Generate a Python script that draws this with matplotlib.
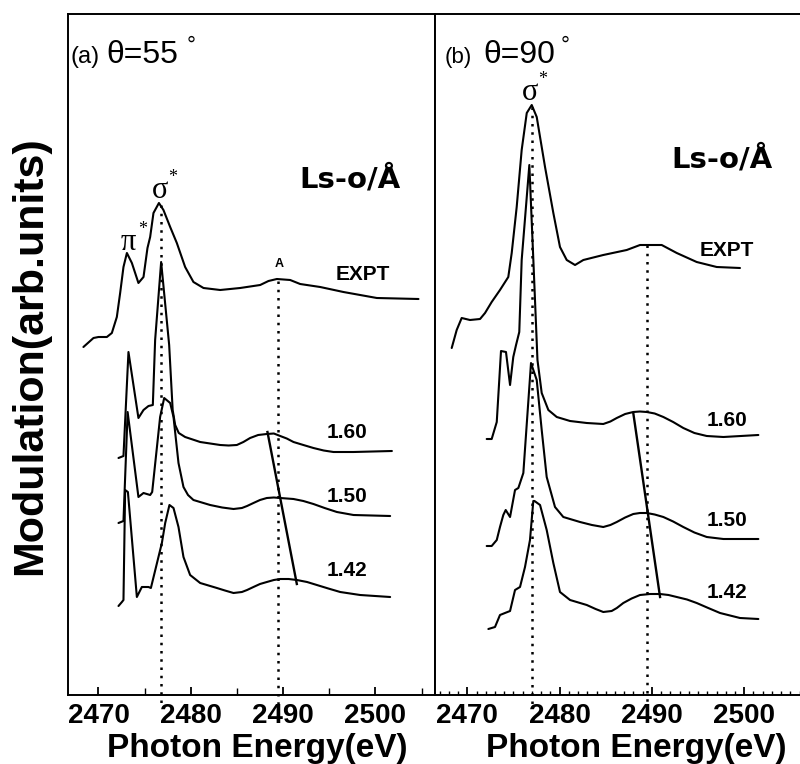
import matplotlib
matplotlib.use("Agg")
import matplotlib.pyplot as plt
from matplotlib.ticker import MultipleLocator

plt.rcParams['font.family'] = ['Liberation Sans', 'DejaVu Sans']

# ---------------- data: panel (a) theta = 55 deg ----------------
a_expt_E = [2468.37, 2469.46, 2470.0, 2470.91, 2471.45, 2471.99, 2472.35, 2472.71, 2473.08,
            2473.62, 2474.33, 2474.88, 2475.31, 2475.60, 2475.96, 2476.55, 2477.04, 2477.77,
            2478.49, 2479.39, 2480.29, 2481.38, 2483.19, 2485.35, 2487.52, 2488.42, 2489.33,
            2490.77, 2491.85, 2494.02, 2496.54, 2500.16, 2504.67]
a_expt_I = [3.48, 3.57, 3.58, 3.58, 3.62, 3.78, 4.02, 4.28, 4.42,
            4.32, 4.12, 4.18, 4.47, 4.58, 4.82, 4.92, 4.85, 4.68,
            4.52, 4.28, 4.13, 4.07, 4.05, 4.07, 4.10, 4.14, 4.16,
            4.15, 4.11, 4.08, 4.03, 3.97, 3.96]

a_160_E = [2472.17, 2472.71, 2473.25, 2474.33, 2474.88, 2475.42, 2475.89, 2476.14, 2476.79,
           2477.66, 2478.04, 2478.31, 2478.70, 2479.39, 2481.02, 2482.10, 2483.19, 2484.10,
           2484.99, 2485.70, 2486.43, 2487.30, 2488.24, 2489.00, 2489.69, 2490.40, 2491.13,
           2492.20, 2493.29, 2494.40, 2495.46, 2497.63, 2501.79]
a_160_I = [2.37, 2.39, 3.43, 2.77, 2.85, 2.89, 2.90, 3.55, 4.33,
           3.50, 2.85, 2.70, 2.62, 2.58, 2.53, 2.515, 2.50, 2.495,
           2.50, 2.53, 2.57, 2.60, 2.61, 2.615, 2.59, 2.565, 2.53,
           2.50, 2.47, 2.445, 2.43, 2.43, 2.44]

a_150_E = [2472.17, 2472.71, 2473.16, 2474.33, 2474.88, 2475.60, 2475.82, 2476.68, 2477.12,
           2477.77, 2478.13, 2478.67, 2479.21, 2479.70, 2480.29, 2482.10, 2483.40, 2484.63,
           2485.54, 2486.10, 2486.79, 2487.50, 2488.24, 2489.00, 2489.69, 2491.13, 2492.20,
           2493.29, 2494.50, 2495.83, 2497.63, 2501.60]
a_150_I = [1.72, 1.74, 2.83, 1.98, 2.02, 2.00, 2.03, 2.78, 2.97,
           2.92, 2.78, 2.32, 2.08, 2.00, 1.95, 1.90, 1.875, 1.86,
           1.87, 1.89, 1.92, 1.95, 1.97, 1.975, 1.97, 1.96, 1.94,
           1.91, 1.87, 1.83, 1.80, 1.79]

a_142_E = [2472.17, 2472.54, 2472.71, 2472.89, 2473.19, 2474.16, 2474.70, 2475.42, 2475.68,
           2476.50, 2476.87, 2477.23, 2477.69, 2478.13, 2478.67, 2479.21, 2479.93, 2481.02,
           2482.83, 2483.70, 2484.63, 2485.54, 2486.10, 2486.79, 2487.50, 2488.24, 2489.00,
           2489.69, 2490.60, 2491.49, 2492.60, 2493.66, 2494.90, 2496.19, 2498.35, 2501.60]
a_142_I = [0.89, 0.93, 0.95, 2.05, 2.03, 0.98, 1.08, 1.08, 1.07,
           1.38, 1.52, 1.72, 1.90, 1.87, 1.68, 1.38, 1.20, 1.12,
           1.07, 1.045, 1.02, 1.03, 1.05, 1.08, 1.11, 1.13, 1.15,
           1.16, 1.16, 1.15, 1.13, 1.10, 1.065, 1.03, 1.00, 0.98]

a_shift_E = [2488.31, 2491.49]
a_shift_I = [2.63, 1.11]
a_sigma_E, a_sigma_top = 2476.8, 4.90
a_A_E, a_A_top = 2489.5, 4.14

# ---------------- data: panel (b) theta = 90 deg ----------------
b_expt_E = [2468.31, 2468.85, 2469.39, 2470.29, 2471.38, 2471.92, 2472.64, 2473.54, 2474.44,
            2474.81, 2475.35, 2475.89, 2476.44, 2476.98, 2477.52, 2478.42, 2479.32, 2480.04,
            2480.77, 2481.67, 2482.57, 2484.73, 2487.27, 2488.71, 2491.06, 2492.69, 2494.85,
            2497.02, 2499.54]
b_expt_I = [3.47, 3.65, 3.77, 3.75, 3.76, 3.82, 3.93, 4.05, 4.18,
            4.42, 4.88, 5.45, 5.82, 5.90, 5.78, 5.28, 4.82, 4.48,
            4.35, 4.30, 4.35, 4.40, 4.45, 4.50, 4.50, 4.42, 4.33,
            4.28, 4.27]

b_160_E = [2472.10, 2472.64, 2473.19, 2473.65, 2474.19, 2474.63, 2474.98, 2475.28, 2475.63,
           2475.89, 2476.72, 2477.20, 2477.60, 2478.06, 2478.78, 2479.69, 2481.13, 2482.94,
           2484.73, 2485.50, 2486.19, 2487.10, 2487.98, 2488.70, 2489.44, 2490.30, 2491.24,
           2492.30, 2493.40, 2494.60, 2495.94, 2497.74, 2501.53]
b_160_I = [2.56, 2.56, 2.73, 3.44, 3.43, 3.10, 3.38, 3.50, 3.63,
           4.35, 5.30, 4.25, 3.35, 3.02, 2.85, 2.78, 2.74, 2.72,
           2.71, 2.735, 2.77, 2.81, 2.83, 2.835, 2.83, 2.815, 2.78,
           2.73, 2.67, 2.62, 2.59, 2.58, 2.60]

b_150_E = [2472.10, 2472.64, 2473.19, 2473.54, 2473.90, 2474.16, 2474.63, 2475.17, 2475.53,
           2476.07, 2476.90, 2477.52, 2478.06, 2478.60, 2479.50, 2480.40, 2482.21, 2483.50,
           2484.73, 2485.50, 2486.19, 2487.10, 2487.98, 2488.70, 2489.44, 2490.30, 2491.24,
           2492.30, 2493.40, 2494.60, 2495.94, 2497.74, 2501.53]
b_150_I = [1.49, 1.49, 1.55, 1.68, 1.80, 1.85, 1.78, 2.05, 2.07,
           2.22, 3.32, 3.15, 2.65, 2.18, 1.88, 1.78, 1.73, 1.70,
           1.68, 1.70, 1.73, 1.775, 1.81, 1.82, 1.82, 1.805, 1.78,
           1.735, 1.68, 1.625, 1.58, 1.56, 1.56]

b_142_E = [2472.28, 2473.00, 2473.54, 2474.08, 2474.63, 2475.17, 2475.71, 2476.25, 2476.79,
           2477.15, 2477.28, 2477.88, 2478.60, 2479.32, 2480.04, 2481.13, 2482.94, 2483.90,
           2484.73, 2485.64, 2486.20, 2486.90, 2487.80, 2488.71, 2489.80, 2490.88, 2491.80,
           2492.69, 2493.80, 2494.85, 2496.10, 2497.38, 2499.54, 2501.53]
b_142_I = [0.66, 0.68, 0.80, 0.82, 0.84, 1.05, 1.08, 1.28, 1.55,
           1.94, 1.94, 1.90, 1.65, 1.32, 1.03, 0.95, 0.90, 0.86,
           0.83, 0.84, 0.87, 0.92, 0.965, 1.00, 1.01, 1.01, 1.00,
           0.98, 0.955, 0.92, 0.87, 0.82, 0.77, 0.76]

b_shift_E = [2487.98, 2490.88]
b_shift_I = [2.82, 0.98]
b_sigma_E, b_sigma_top = 2477.0, 5.88
b_A_E, b_A_top = 2489.5, 4.50

xticks = [2470, 2480, 2490, 2500]
sim_labels = ['1.60', '1.50', '1.42']

# ---------------- figure ----------------
W, H = 800, 764
fig = plt.figure(figsize=(8, 7.64), dpi=100)
axa = fig.add_axes([68 / W, 69 / H, 367 / W, 681 / H])
axb = fig.add_axes([435 / W, 69 / H, 366 / W, 681 / H])

lw = 1.5
dots = (0, (1, 2.3))
serif = ['Liberation Serif', 'DejaVu Serif']
line_kw = dict(color='black', lw=lw, solid_joinstyle='round', solid_capstyle='round')

def style(ax, xlim, fine):
    ax.set_xlim(*xlim)
    ax.set_ylim(0, 6.81)
    ax.set_yticks([])
    ax.set_xticks(xticks)
    ax.set_xticklabels([str(t) for t in xticks], fontsize=20, fontweight='bold')
    ax.xaxis.set_minor_locator(MultipleLocator(1 if fine else 5))
    ax.tick_params(axis='x', which='major', direction='in', length=6, width=1.3, pad=6)
    ax.tick_params(axis='x', which='minor', direction='in', length=3 if fine else 5, width=1.0)
    for s in ax.spines.values():
        s.set_linewidth(1.4)

style(axa, (2466.7, 2506.46), False)
style(axb, (2466.5, 2506.15), True)
axb.spines['right'].set_visible(False)

# panel a
axa.plot(a_expt_E, a_expt_I, **line_kw)
for E, I in [(a_160_E, a_160_I), (a_150_E, a_150_I), (a_142_E, a_142_I)]:
    axa.plot(E, I, **line_kw)
axa.plot(a_shift_E, a_shift_I, color='black', lw=1.7)
axa.plot([a_sigma_E, a_sigma_E], [a_sigma_top, -0.1], color='black', lw=1.8, ls=dots, clip_on=False)
axa.plot([a_A_E, a_A_E], [a_A_top, -0.1], color='black', lw=1.8, ls=dots, clip_on=False)

# panel b
axb.plot(b_expt_E, b_expt_I, **line_kw)
for E, I in [(b_160_E, b_160_I), (b_150_E, b_150_I), (b_142_E, b_142_I)]:
    axb.plot(E, I, **line_kw)
axb.plot(b_shift_E, b_shift_I, color='black', lw=1.7)
axb.plot([b_sigma_E, b_sigma_E], [b_sigma_top, -0.1], color='black', lw=1.8, ls=dots, clip_on=False)
axb.plot([b_A_E, b_A_E], [b_A_top, -0.1], color='black', lw=1.8, ls=dots, clip_on=False)

# annotations panel a
axa.text(2466.93, 6.32, '(a)', fontsize=17, ha='left', va='baseline')
axa.text(2470.9, 6.32, 'θ=55', fontsize=23, ha='left', va='baseline')
axa.text(2479.6, 6.43, '°', fontsize=16, ha='left', va='baseline')
axa.text(2497.3, 5.08, 'Ls-o/Å', fontsize=21, fontweight='bold', ha='center', va='baseline',
         family=['DejaVu Sans'])
axa.text(2498.67, 4.21, 'EXPT', fontsize=15, fontweight='bold', ha='center', va='center')
axa.text(2489.57, 4.31, 'A', fontsize=9, fontweight='bold', ha='center', va='center')
axa.text(2473.2, 4.52, 'π', fontsize=22, ha='center', va='center', family=serif)
axa.text(2474.3, 4.66, '*', fontsize=13, ha='left', va='center', family=serif)
axa.text(2476.68, 5.05, 'σ', fontsize=22, ha='center', va='center', family=serif)
axa.text(2477.6, 5.18, '*', fontsize=13, ha='left', va='center', family=serif)
for lab, y in zip(sim_labels, [2.62, 1.99, 1.25]):
    axa.text(2496.9, y, lab, fontsize=15, fontweight='bold', ha='center', va='center')

# annotations panel b
axb.text(2467.58, 6.32, '(b)', fontsize=16, ha='left', va='baseline')
axb.text(2471.7, 6.32, 'θ=90', fontsize=23, ha='left', va='baseline')
axb.text(2480.1, 6.43, '°', fontsize=16, ha='left', va='baseline')
axb.text(2497.6, 5.27, 'Ls-o/Å', fontsize=21, fontweight='bold', ha='center', va='baseline',
         family=['DejaVu Sans'])
axb.text(2498.1, 4.45, 'EXPT', fontsize=15, fontweight='bold', ha='center', va='center')
axb.text(2476.79, 6.03, 'σ', fontsize=22, ha='center', va='center', family=serif)
axb.text(2477.7, 6.15, '*', fontsize=13, ha='left', va='center', family=serif)
for lab, y in zip(sim_labels, [2.75, 1.75, 1.03]):
    axb.text(2498.1, y, lab, fontsize=15, fontweight='bold', ha='center', va='center')

# axis titles
fig.text(257 / W, 1 - 748 / H, 'Photon Energy(eV)', fontsize=24, fontweight='bold',
         ha='center', va='center')
fig.text(636 / W, 1 - 748 / H, 'Photon Energy(eV)', fontsize=24, fontweight='bold',
         ha='center', va='center')
fig.text(30 / W, 1 - 356 / H, 'Modulation(arb.units)', fontsize=31, fontweight='bold',
         rotation=90, ha='center', va='center')

fig.savefig('out.png', dpi=100)
